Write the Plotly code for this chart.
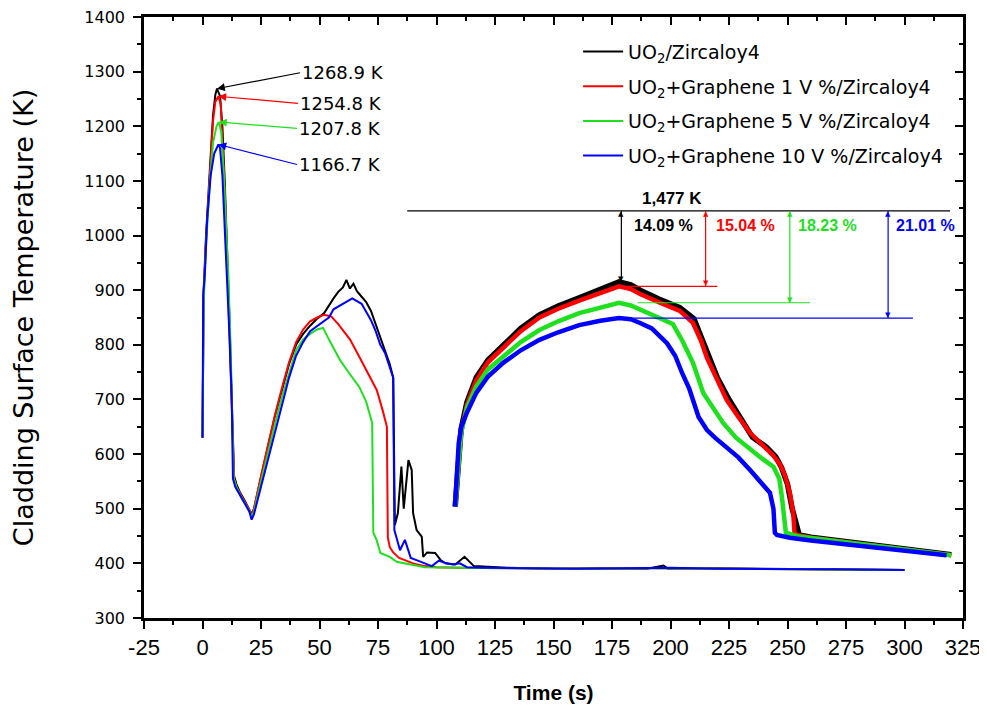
import plotly.graph_objects as go

# ---------------- data ----------------
series_names = [
    "UO<sub>2</sub>/Zircaloy4",
    "UO<sub>2</sub>+Graphene 1 V %/Zircaloy4",
    "UO<sub>2</sub>+Graphene 5 V %/Zircaloy4",
    "UO<sub>2</sub>+Graphene 10 V %/Zircaloy4",
]

x_tick_vals = [-25, 0, 25, 50, 75, 100, 125, 150, 175, 200, 225, 250, 275, 300, 325]
x_tick_text = ["-25", "0", "25", "50", "75", "100", "125", "150", "175", "200", "225", "250", "275", "300", "325"]

# first transient (0 - 300 s)
black_t1 = [0, 0.5, 1.5, 3, 4.5, 5.5, 6.2, 7.5, 8.5, 9.5, 10.5, 11.5, 12.5, 13.5, 14.5, 16, 18, 20, 21, 22,
            25, 28, 31, 34, 37, 40, 43, 46, 49, 52, 54, 56, 58, 60, 61.5, 63, 64.5, 66, 68, 70,
            72, 74, 76, 78, 80, 81.5, 82.2, 83.5, 84.4, 85, 86, 87, 88, 89.4, 90, 91.5, 93.7, 94.3, 96, 99.4,
            102, 104, 108, 112, 116, 130, 150, 170, 190, 197, 199, 220, 250, 270, 300]
black_T1 = [630, 900, 1000, 1120, 1220, 1258, 1268.9, 1255, 1200, 1100, 980, 850, 700, 560, 545, 530, 515, 500, 490, 500,
            560, 615, 670, 720, 765, 800, 820, 835, 848, 858, 872, 885, 897, 905, 919, 903, 912, 898, 888, 878,
            862, 838, 810, 788, 765, 740, 470, 492, 540, 577, 500, 553, 589, 571, 492, 461, 449, 412, 420, 419,
            405, 400, 398, 412, 395, 392, 390, 391, 390, 396, 390, 391, 390, 390, 388]

red_t1 = [0, 0.5, 1.5, 3, 4.5, 5.5, 6.8, 7.8, 8.5, 9.5, 10.5, 11.5, 12.5, 13.5, 14.5, 16, 18, 20, 21, 22,
          25, 28, 31, 34, 37, 40, 43, 46, 49, 52, 55, 58, 60, 63, 67, 71, 74.5, 77, 78.8, 79.2,
          80, 81.5, 84, 87, 90, 95, 100, 110, 130, 160, 190, 220, 250, 280, 300]
red_T1 = [630, 890, 990, 1110, 1210, 1245, 1254.8, 1240, 1180, 1080, 960, 830, 690, 555, 540, 528, 512, 498, 487, 500,
          560, 618, 672, 722, 768, 805, 828, 843, 850, 855, 852, 838, 827, 810, 778, 745, 717, 680, 650, 448,
          430, 420, 410, 405, 400, 395, 393, 392, 391, 390, 391, 390, 390, 389, 388]

green_t1 = [0, 0.5, 1.5, 3, 4.5, 6, 7, 8, 9, 10, 11, 12, 12.5, 13.3, 14.5, 16, 18, 20, 21, 22,
            25, 28, 31, 34, 37, 40, 43, 46, 49, 51.5, 54, 56, 58.8, 62, 65, 67, 70, 72.5, 73, 74.4,
            76, 80, 83, 87, 95, 110, 130, 160, 190, 220, 250, 280, 300]
green_T1 = [630, 880, 980, 1090, 1170, 1200, 1207.8, 1190, 1120, 1030, 930, 800, 700, 555, 540, 526, 511, 496, 484, 495,
            550, 605, 655, 705, 750, 790, 810, 820, 828, 831, 810, 795, 772, 752, 735, 723, 695, 657, 456, 443,
            419, 412, 403, 400, 393, 392, 391, 390, 391, 390, 390, 389, 388]

blue_t1 = [0, 0.3, 1, 2, 3.5, 5, 6.8, 7.5, 8.5, 9.5, 10.5, 11.5, 12.5, 13, 14, 16, 18, 20, 21, 22,
           25, 28, 31, 34, 37, 40, 43, 46, 49, 52, 54, 56, 58, 60, 62, 64, 66, 68, 70, 72,
           74, 76, 78, 80, 81.5, 82, 84.4, 86.5, 89, 92, 95, 98, 101, 104, 107, 110, 113, 120, 140, 160,
           180, 200, 220, 250, 270, 300]
blue_T1 = [630, 890, 930, 1030, 1110, 1150, 1166.7, 1160, 1110, 1020, 930, 820, 700, 555, 540, 525, 510, 495, 480, 490,
           540, 590, 640, 690, 740, 780, 805, 825, 835, 845, 850, 865, 870, 875, 880, 885, 880, 875, 860, 845,
           825, 800, 785, 760, 740, 461, 424, 443, 410, 405, 400, 395, 405, 400, 398, 400, 393, 392, 391, 390,
           391, 392, 390, 390, 389, 388]

# second transient (107 - 320 s)
black_t2 = [108, 109, 110.5, 113, 117, 122, 128.5, 136, 144, 152, 161, 170, 178, 183, 187, 195, 204, 210, 213, 216,
            220, 225, 230, 235, 241, 245, 247.5, 250, 252, 253.5, 254.2, 255, 260, 270, 280, 290, 300, 310, 320]
black_T2 = [504, 575, 645, 695, 740, 772, 800, 830, 855, 871, 886, 900, 915, 910, 900, 884, 868, 848, 815, 780,
            740, 700, 665, 631, 613, 595, 575, 545, 500, 470, 456, 452, 448, 443, 438, 432, 427, 421, 416]

red_t2 = [108, 109, 110.5, 113, 117, 122, 128.5, 136, 144, 152, 161, 170, 178, 183, 187, 195, 204, 209.6, 213, 215.6,
          220, 224, 229, 234, 239, 244, 247, 249, 251, 252.5, 253, 254, 260, 270, 280, 290, 300, 310, 320]
red_T2 = [504, 570, 640, 690, 735, 768, 795, 825, 850, 866, 881, 895, 907, 902, 893, 878, 862, 840, 808, 776,
          735, 699, 668, 639, 618, 597, 580, 560, 529, 490, 456, 452, 447, 442, 437, 431, 426, 421, 415]

green_t2 = [108, 109, 110.5, 113, 117, 122, 128.5, 136, 144, 152, 161, 170, 178, 183, 187, 194, 201, 205, 209.6, 214,
            218, 222.5, 228, 234, 239, 244, 246.5, 247.6, 248.5, 249.3, 255, 260, 270, 280, 290, 300, 310, 320]
green_T2 = [504, 565, 638, 685, 724, 755, 778, 805, 827, 843, 858, 868, 877, 872, 864, 852, 838, 808, 767, 712,
            685, 657, 630, 608, 592, 577, 555, 522, 490, 456, 449, 446, 441, 436, 431, 426, 421, 415]

blue_t2 = [107.9, 108.5, 109.5, 110.6, 112.9, 117, 122, 128.5, 136, 144, 152, 161, 170, 178, 183, 187, 192, 198.5, 202, 205,
           208, 212, 215.6, 219, 224, 229, 234, 238, 242.5, 244, 244.6, 245.5, 251, 260, 270, 280, 290, 300, 310, 318]
blue_T2 = [504, 560, 620, 650, 675, 712, 742, 767, 790, 809, 823, 836, 844, 849, 847, 840, 830, 803, 780, 748,
           720, 668, 644, 630, 613, 594, 571, 552, 529, 500, 456, 452, 447, 442, 437, 432, 427, 422, 418, 415]

peak_labels = ["1268.9 K", "1254.8 K", "1207.8 K", "1166.7 K"]
limit_label = "1,477 K"
pct_labels = ["14.09 %", "15.04 %", "18.23 %", "21.01 %"]

# ---------------- figure ----------------
colors = ["#000000", "#ff0000", "#1fe01f", "#0000ff"]
t1s = [black_t1, red_t1, green_t1, blue_t1]
T1s = [black_T1, red_T1, green_T1, blue_T1]
t2s = [black_t2, red_t2, green_t2, blue_t2]
T2s = [black_T2, red_T2, green_T2, blue_T2]

fig = go.Figure()
for name, c, tx, ty in zip(series_names, colors, t1s, T1s):
    fig.add_trace(go.Scatter(x=tx, y=ty, mode="lines", name=name, legendgroup=name,
                             line=dict(color=c, width=2)))
hump_w = [5.5, 4.5, 4.5, 4.5]
for name, c, tx, ty, w in zip(series_names, colors, t2s, T2s, hump_w):
    # drawn on the (identical) mirror axes so that the top/right frame axes are rendered
    fig.add_trace(go.Scatter(x=tx, y=ty, mode="lines", name=name, legendgroup=name, showlegend=False,
                             xaxis="x2", yaxis="y2", line=dict(color=c, width=w)))

FONT = "DejaVu Sans, Verdana, sans-serif"
ARIAL = "Arial, Liberation Sans, sans-serif"
NARROW = "Liberation Sans Narrow, Arial Narrow, Arial, sans-serif"

annotations = []
# peak labels of first transient
tail_pos = [(41.7, 1298), (40.8, 1242), (40.4, 1196), (40.4, 1130)]
for lab, c, tx, ty, (ax, ay) in zip(peak_labels, colors, t1s, T1s, tail_pos):
    i = max(range(len(ty)), key=lambda k: ty[k])
    annotations.append(dict(x=tx[i], y=ty[i], ax=ax, ay=ay, axref="x", ayref="y", xref="x", yref="y",
                            text=lab, xanchor="left", yanchor="middle", showarrow=True,
                            arrowhead=2, arrowsize=1.3, arrowwidth=1.2, arrowcolor=c,
                            font=dict(family=FONT, size=18, color="#000000")))

# limit line and percentage (double-headed) arrows
limit_y = 1045
arrow_x = [179, 215, 251, 293]
hline_x = [None, (180, 220), (186, 259.6), (181, 303.6)]
pct_text_x = [197, 232, 267, 309]
shapes = [dict(type="line", xref="x", yref="y", x0=87.5, x1=319.5, y0=limit_y, y1=limit_y,
               line=dict(color="#000000", width=1.2))]
annotations.append(dict(x=200.6, y=limit_y, xref="x", yref="y", yanchor="bottom", showarrow=False,
                        text="<b>" + limit_label + "</b>", yshift=1,
                        font=dict(family=ARIAL, size=17, color="#000000")))
for lab, c, ty, ax_, hx, px in zip(pct_labels, colors, T2s, arrow_x, hline_x, pct_text_x):
    peak = max(ty)
    shapes.append(dict(type="line", xref="x", yref="y", x0=ax_, x1=ax_, y0=peak, y1=limit_y,
                       line=dict(color=c, width=1.2)))
    # arrow heads as small triangle glyphs
    annotations.append(dict(x=ax_, y=limit_y, xref="x", yref="y", showarrow=False, text="▲",
                            yanchor="top", yshift=2, borderpad=0,
                            font=dict(family=FONT, size=7, color=c)))
    annotations.append(dict(x=ax_, y=peak, xref="x", yref="y", showarrow=False, text="▼",
                            yanchor="bottom", yshift=-2, borderpad=0,
                            font=dict(family=FONT, size=7, color=c)))
    if hx is not None:
        shapes.append(dict(type="line", xref="x", yref="y", x0=hx[0], x1=hx[1], y0=peak, y1=peak,
                           line=dict(color=c, width=1.2)))
    annotations.append(dict(x=px, y=1018, xref="x", yref="y", showarrow=False,
                            text="<b>" + lab + "</b>",
                            font=dict(family=ARIAL, size=16, color=c)))

axis_common = dict(showgrid=False, zeroline=False, showline=True, linecolor="#000000", linewidth=2.5,
                   tickcolor="#000000", tickwidth=2, automargin=False)

fig.update_layout(
    width=979, height=707,
    margin=dict(l=136, r=24, t=9, b=97),
    paper_bgcolor="white", plot_bgcolor="white",
    xaxis=dict(range=[-25, 325], tickmode="array", tickvals=x_tick_vals, ticktext=x_tick_text,
               ticks="outside", ticklen=8, ticklabeloverflow="allow",
               minor=dict(dtick=12.5, tick0=-25, ticks="outside", ticklen=4, tickwidth=2, tickcolor="#000000"),
               tickfont=dict(family=NARROW, size=22, color="#000000"),
               title=dict(text="<b>Time (s)</b>", standoff=27,
                          font=dict(family=ARIAL, size=21, color="#000000")),
               **axis_common),
    yaxis=dict(range=[300, 1400], tick0=300, dtick=100, ticks="outside", ticklen=8, ticklabelstandoff=5,
               ticklabeloverflow="allow",
               minor=dict(dtick=50, tick0=300, ticks="outside", ticklen=4, tickwidth=2, tickcolor="#000000"),
               tickfont=dict(family=FONT, size=16, color="#000000"),
               title=dict(text="Cladding Surface Temperature (K)", standoff=52,
                          font=dict(family=FONT, size=27, color="#000000")),
               **axis_common),
    xaxis2=dict(range=[-25, 325], overlaying="x", side="top", tick0=-25, dtick=25, ticks="inside", ticklen=8,
                minor=dict(dtick=12.5, tick0=-25, ticks="inside", ticklen=4, tickwidth=2, tickcolor="#000000"),
                showticklabels=False, **axis_common),
    yaxis2=dict(range=[300, 1400], overlaying="y", side="right", tick0=300, dtick=100, ticks="inside", ticklen=8,
                minor=dict(dtick=50, tick0=300, ticks="inside", ticklen=4, tickwidth=2, tickcolor="#000000"),
                showticklabels=False, **axis_common),
    legend=dict(x=0.53, y=0.974, xanchor="left", yanchor="top", bgcolor="rgba(0,0,0,0)",
                font=dict(family=FONT, size=19, color="#000000"), tracegroupgap=7, itemwidth=40),
    shapes=shapes,
    annotations=annotations,
    showlegend=True,
)

fig.write_html("out.html")
